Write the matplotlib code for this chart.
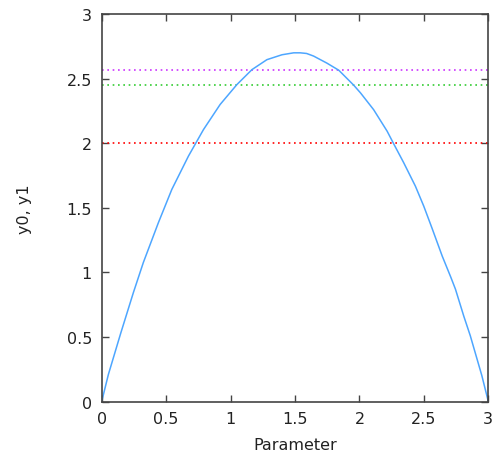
import numpy as np
import matplotlib.pyplot as plt

# sampled curve y1 over the parameter range
param = [0.0, 0.052, 0.148, 0.246, 0.323, 0.44, 0.544, 0.673, 0.79, 0.919,
         1.049, 1.166, 1.282, 1.399, 1.49, 1.54, 1.59, 1.644, 1.748, 1.84,
         1.955, 2.008, 2.11, 2.215, 2.266, 2.343, 2.434, 2.499, 2.564, 2.642,
         2.71, 2.745, 2.81, 2.86, 2.95, 3.0]
y1 = [0.0, 0.21, 0.53, 0.844, 1.076, 1.385, 1.642, 1.90, 2.106, 2.30,
      2.454, 2.57, 2.647, 2.685, 2.70, 2.70, 2.695, 2.675, 2.62, 2.565,
      2.45, 2.39, 2.26, 2.093, 1.995, 1.85, 1.668, 1.513, 1.34, 1.127,
      0.96, 0.87, 0.66, 0.51, 0.20, 0.0]

# constant levels y0
levels = [2.0, 2.45, 2.57]
level_colors = ['#ff0000', '#33cc33', '#cc33ff']

xticks = [0, 0.5, 1, 1.5, 2, 2.5, 3]
yticks = [0, 0.5, 1, 1.5, 2, 2.5, 3]

fig = plt.figure(figsize=(4.92, 4.64), dpi=100)
ax = fig.add_axes([0.2067, 0.1325, 0.7858, 0.835])

for lev, col in zip(levels, level_colors):
    ax.plot([0, 3], [lev, lev], color=col, lw=1.2, linestyle=(0, (1, 2.2)))
ax.plot(param, y1, color='#4da6ff', lw=1.1)

ax.set_xlim(0, 3)
ax.set_ylim(0, 3)
ax.set_xticks(xticks)
ax.set_yticks(yticks)
ax.set_xticklabels([f'{t:g}' for t in xticks])
ax.set_yticklabels([f'{t:g}' for t in yticks])
ax.tick_params(direction='in', length=5, width=1, top=True, right=True,
               labelsize=11.5, colors='#444444', labelcolor='#222222', pad=7)
for s in ax.spines.values():
    s.set_color('#444444')
    s.set_linewidth(1.2)

ax.set_xlabel('Parameter', fontsize=11.5, color='#222222', labelpad=8)
ax.set_ylabel('y0, y1', fontsize=11.5, color='#222222', labelpad=25)

fig.savefig('out.png', dpi=100)
